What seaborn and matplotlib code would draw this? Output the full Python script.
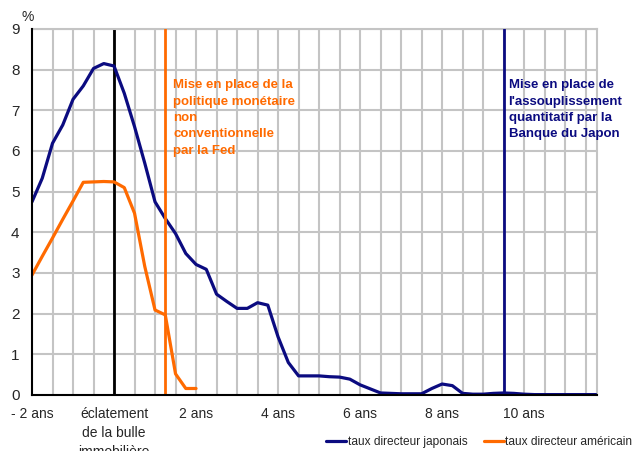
import numpy as np
import pandas as pd
import matplotlib
matplotlib.use("Agg")
import matplotlib.pyplot as plt
import seaborn as sns

# ---- data (quarters relative to the bursting of the bubble, in years) ----
jp_t = [-2.0, -1.75, -1.5, -1.25, -1.0, -0.75, -0.5, -0.25, 0.0, 0.25, 0.5, 0.75,
        1.0, 1.25, 1.5, 1.75, 2.0, 2.25, 2.5, 2.75, 3.0, 3.25, 3.5, 3.75,
        4.0, 4.25, 4.5, 4.75, 5.0, 5.25, 5.5, 5.75, 6.0, 6.25, 6.5, 6.75,
        7.0, 7.25, 7.5, 7.75, 8.0, 8.25, 8.5, 8.75, 9.0, 9.25, 9.5, 9.75,
        10.0, 10.25, 10.5, 10.75, 11.0, 11.25, 11.5, 11.75]
jp_rate = [4.75, 5.33, 6.19, 6.64, 7.27, 7.6, 8.03, 8.15, 8.09, 7.42, 6.6, 5.7,
           4.75, 4.34, 3.97, 3.48, 3.21, 3.09, 2.48, 2.3, 2.13, 2.13, 2.27, 2.21,
           1.43, 0.8, 0.47, 0.47, 0.47, 0.45, 0.44, 0.39, 0.25, 0.15, 0.05, 0.04,
           0.03, 0.03, 0.03, 0.16, 0.27, 0.23, 0.04, 0.02, 0.02, 0.04, 0.05, 0.04,
           0.02, 0.01, 0.01, 0.01, 0.01, 0.01, 0.01, 0.01]
us_t = [-2.0, -1.75, -1.5, -1.25, -1.0, -0.75, -0.5, -0.25, 0.0, 0.25, 0.5, 0.75,
        1.0, 1.25, 1.5, 1.75, 2.0]
us_rate = [2.95, 3.41, 3.86, 4.32, 4.77, 5.23, 5.24, 5.25, 5.24, 5.1, 4.47, 3.16,
           2.09, 1.97, 0.52, 0.16, 0.16]

event_bubble = 0.0
event_fed = 1.25
event_boj = 9.5

x_tick_labels = {-2: "- 2 ans", 0: "éclatement\nde la bulle\nimmobilière", 2: "2 ans",
                 4: "4 ans", 6: "6 ans", 8: "8 ans", 10: "10 ans"}
y_ticks = list(range(0, 10))
label_jp = "taux directeur japonais"
label_us = "taux directeur américain"
text_fed = "Mise en place de la\npolitique monétaire\nnon\nconventionnelle\npar la Fed"
text_boj = "Mise en place de\nl'assouplissement\nquantitatif par la\nBanque du Japon"

NAVY = "#0B0B80"
ORANGE = "#FF6A00"
GRID = "#C4C4C4"

sns.set_style("white")
plt.rcParams["font.family"] = ["Liberation Sans", "DejaVu Sans"]

fig = plt.figure(figsize=(6.41, 4.51), dpi=100)
ax = fig.add_axes([32 / 641, 1 - 395 / 451, (596.7 - 32) / 641, (395 - 29) / 451])

jp_df = pd.DataFrame({"t": jp_t, "rate": jp_rate})
us_df = pd.DataFrame({"t": us_t, "rate": us_rate})

# grid
for xv in np.arange(-1.5, 11.8, 0.5):
    ax.axvline(xv, color=GRID, lw=1.5, zorder=0)
for yv in range(1, 10):
    ax.axhline(yv, color=GRID, lw=1.5, zorder=0)

sns.lineplot(data=jp_df, x="t", y="rate", ax=ax, color=NAVY, lw=2.3, label=label_jp,
             zorder=4)
sns.lineplot(data=us_df, x="t", y="rate", ax=ax, color=ORANGE, lw=2.3, label=label_us,
             zorder=3)

ax.axvline(event_bubble, color="black", lw=2.0, zorder=2)
ax.axvline(event_fed, color=ORANGE, lw=2.0, zorder=5)
ax.axvline(event_boj, color=NAVY, lw=2.0, zorder=5)

ax.set_xlim(-2, 11.77)
ax.set_ylim(0, 9)

ticks = np.arange(-2, 11.8, 0.5)
ax.set_xticks(ticks)
ax.set_xticklabels([x_tick_labels.get(int(t), "") if float(t).is_integer() else "" for t in ticks],
                   fontsize=10, linespacing=1.42)
ax.set_yticks(y_ticks)
ax.set_yticklabels([str(v) for v in y_ticks], fontsize=11)
ax.tick_params(axis="x", direction="out", length=4, width=1.2, color="black", pad=5)
ax.tick_params(axis="y", direction="out", length=4, width=1.2, color="black", pad=5)
ax.set_xlabel("")
ax.set_ylabel("")

for side in ["top", "right"]:
    ax.spines[side].set_color(GRID)
    ax.spines[side].set_linewidth(1.5)
for side in ["left", "bottom"]:
    ax.spines[side].set_color("black")
    ax.spines[side].set_linewidth(1.5)
    ax.spines[side].set_zorder(6)

ax.text(-2.1, 9.12, "%", fontsize=10, ha="center", va="bottom")

ax.text(event_fed + 0.2, 7.76, text_fed, color=ORANGE, fontsize=9.5, fontweight="bold",
        ha="left", va="top", linespacing=1.48)
ax.text(event_boj + 0.12, 7.76, text_boj, color=NAVY, fontsize=9.5, fontweight="bold",
        ha="left", va="top", linespacing=1.48)

ax.get_legend().remove()
handles, labels = ax.get_legend_handles_labels()
fig.legend(handles[:2], labels[:2], loc="center left", bbox_to_anchor=(326 / 641, 1 - 442 / 451),
           ncol=2, frameon=False, fontsize=8.6, handlelength=1.7, handletextpad=0.1,
           columnspacing=1.4, borderaxespad=0, borderpad=0)

fig.savefig("out.png", dpi=100)
